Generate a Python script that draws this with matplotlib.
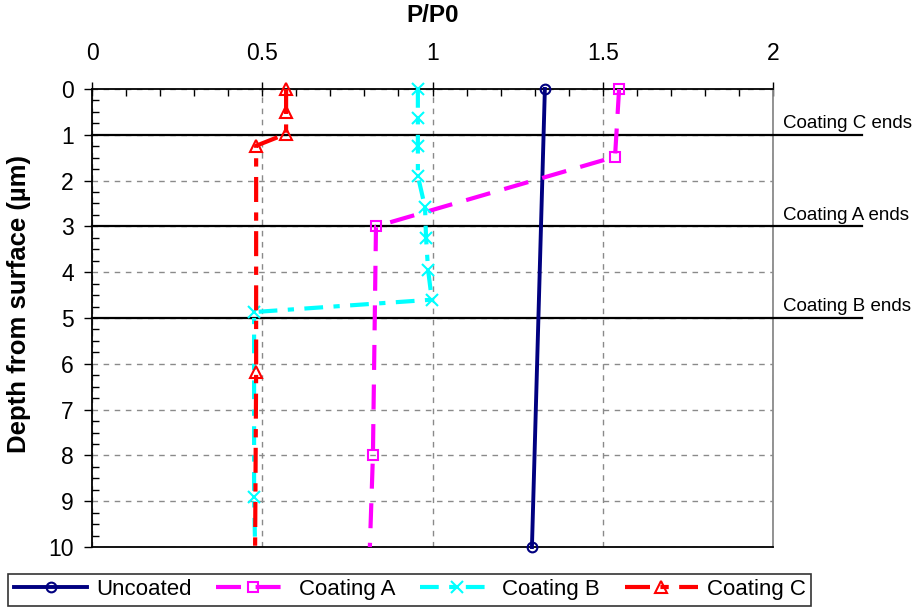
import matplotlib
matplotlib.use("Agg")
import matplotlib.pyplot as plt
from matplotlib.ticker import MultipleLocator

plt.rcParams['font.family'] = ['Liberation Sans', 'DejaVu Sans']

# P/P0 vs depth (um)
unc_x = [1.330, 1.292]
unc_y = [0.0, 10.0]
a_x = [1.548, 1.536, 0.834, 0.825, 0.816]
a_y = [0.0, 1.48, 3.0, 8.0, 10.0]
b_x = [0.957, 0.957, 0.957, 0.957, 0.978, 0.981, 0.987, 0.998, 0.476, 0.476, 0.479]
b_y = [0.0, 0.63, 1.24, 1.90, 2.58, 3.25, 3.95, 4.60, 4.87, 8.90, 10.0]
c_x = [0.570, 0.570, 0.570, 0.482, 0.482, 0.479]
c_y = [0.0, 0.50, 0.98, 1.24, 6.18, 10.0]

ends_depth = [1, 3, 5]
ends_text = ['Coating C ends', 'Coating A ends', 'Coating B ends']

fig = plt.figure(figsize=(9.22, 6.07), dpi=100)
ax = fig.add_axes([0.0998, 0.0988, 0.7386, 0.7546])

ax.set_xlim(0, 2)
ax.set_ylim(10, 0)
ax.xaxis.set_major_locator(MultipleLocator(0.5))
ax.xaxis.set_minor_locator(MultipleLocator(0.1))
ax.yaxis.set_major_locator(MultipleLocator(1))
ax.yaxis.set_minor_locator(MultipleLocator(0.25))
ax.xaxis.tick_top()
ax.xaxis.set_label_position('top')
ax.set_xticks([0, 0.5, 1, 1.5, 2], ['0', '0.5', '1', '1.5', '2'])

ax.tick_params(axis='x', which='major', direction='inout', length=10, width=1, labelsize=16.5, pad=12)
ax.tick_params(axis='x', which='minor', direction='in', length=5, width=1)
ax.tick_params(axis='y', which='major', direction='out', length=6, width=1, labelsize=16.5, pad=7)
ax.tick_params(axis='y', which='minor', direction='in', length=5, width=1)

ax.grid(True, which='major', color='#8a8a8a', ls=(0, (4, 4)), lw=1)
for s in ('left', 'top', 'bottom'):
    ax.spines[s].set_color('black')
    ax.spines[s].set_linewidth(1.3)
ax.spines['right'].set_color('#8a8a8a')
ax.spines['right'].set_linewidth(1.3)

ax.set_xlabel('P/P0', fontsize=17.5, fontweight='bold', labelpad=15)
ax.set_ylabel('Depth from surface (\u00b5m)', fontsize=18.5, fontweight='bold')
ax.yaxis.set_label_coords(-0.089, 0.53)

# coating boundaries run past the plot area into the notes
for d, t in zip(ends_depth, ends_text):
    ax.plot([0, 2.262], [d, d], color='black', lw=1.6, clip_on=False, zorder=3)
    ax.text(2.028, d - 0.06, t, fontsize=13.5, ha='left', va='bottom')

mk = dict(mfc='none', mew=1.5, clip_on=False, zorder=4)
ax.plot(unc_x, unc_y, color='#000080', lw=2.8, marker='o', ms=7, label='Uncoated', **mk)
ax.plot(a_x, a_y, color='#ff00ff', lw=3, ls=(0, (6, 3.5)), marker='s', ms=7,
        markevery=[0, 1, 2, 3], label='Coating A', **mk)
ax.plot(b_x, b_y, color='#00ffff', lw=3, ls=(0, (4.5, 2.5, 1.5, 2.5)), marker='x', ms=8,
        markevery=list(range(10)), label='Coating B', **mk)
ax.plot(c_x, c_y, color='#ff0000', lw=3, ls=(0, (6, 2.5, 2, 2.5)), marker='^', ms=8,
        markevery=[0, 1, 2, 3, 4], label='Coating C', **mk)

leg = fig.legend(loc='lower left', bbox_to_anchor=(0.009, 0.002, 0.871, 0.063), mode='expand',
                 ncol=4, fontsize=16, frameon=True, fancybox=False, handlelength=3.3,
                 handletextpad=0.4, columnspacing=0.9, borderaxespad=0, borderpad=0.25)
leg.get_frame().set_edgecolor('black')
leg.get_frame().set_linewidth(1.2)

fig.savefig('out.png', dpi=100)
